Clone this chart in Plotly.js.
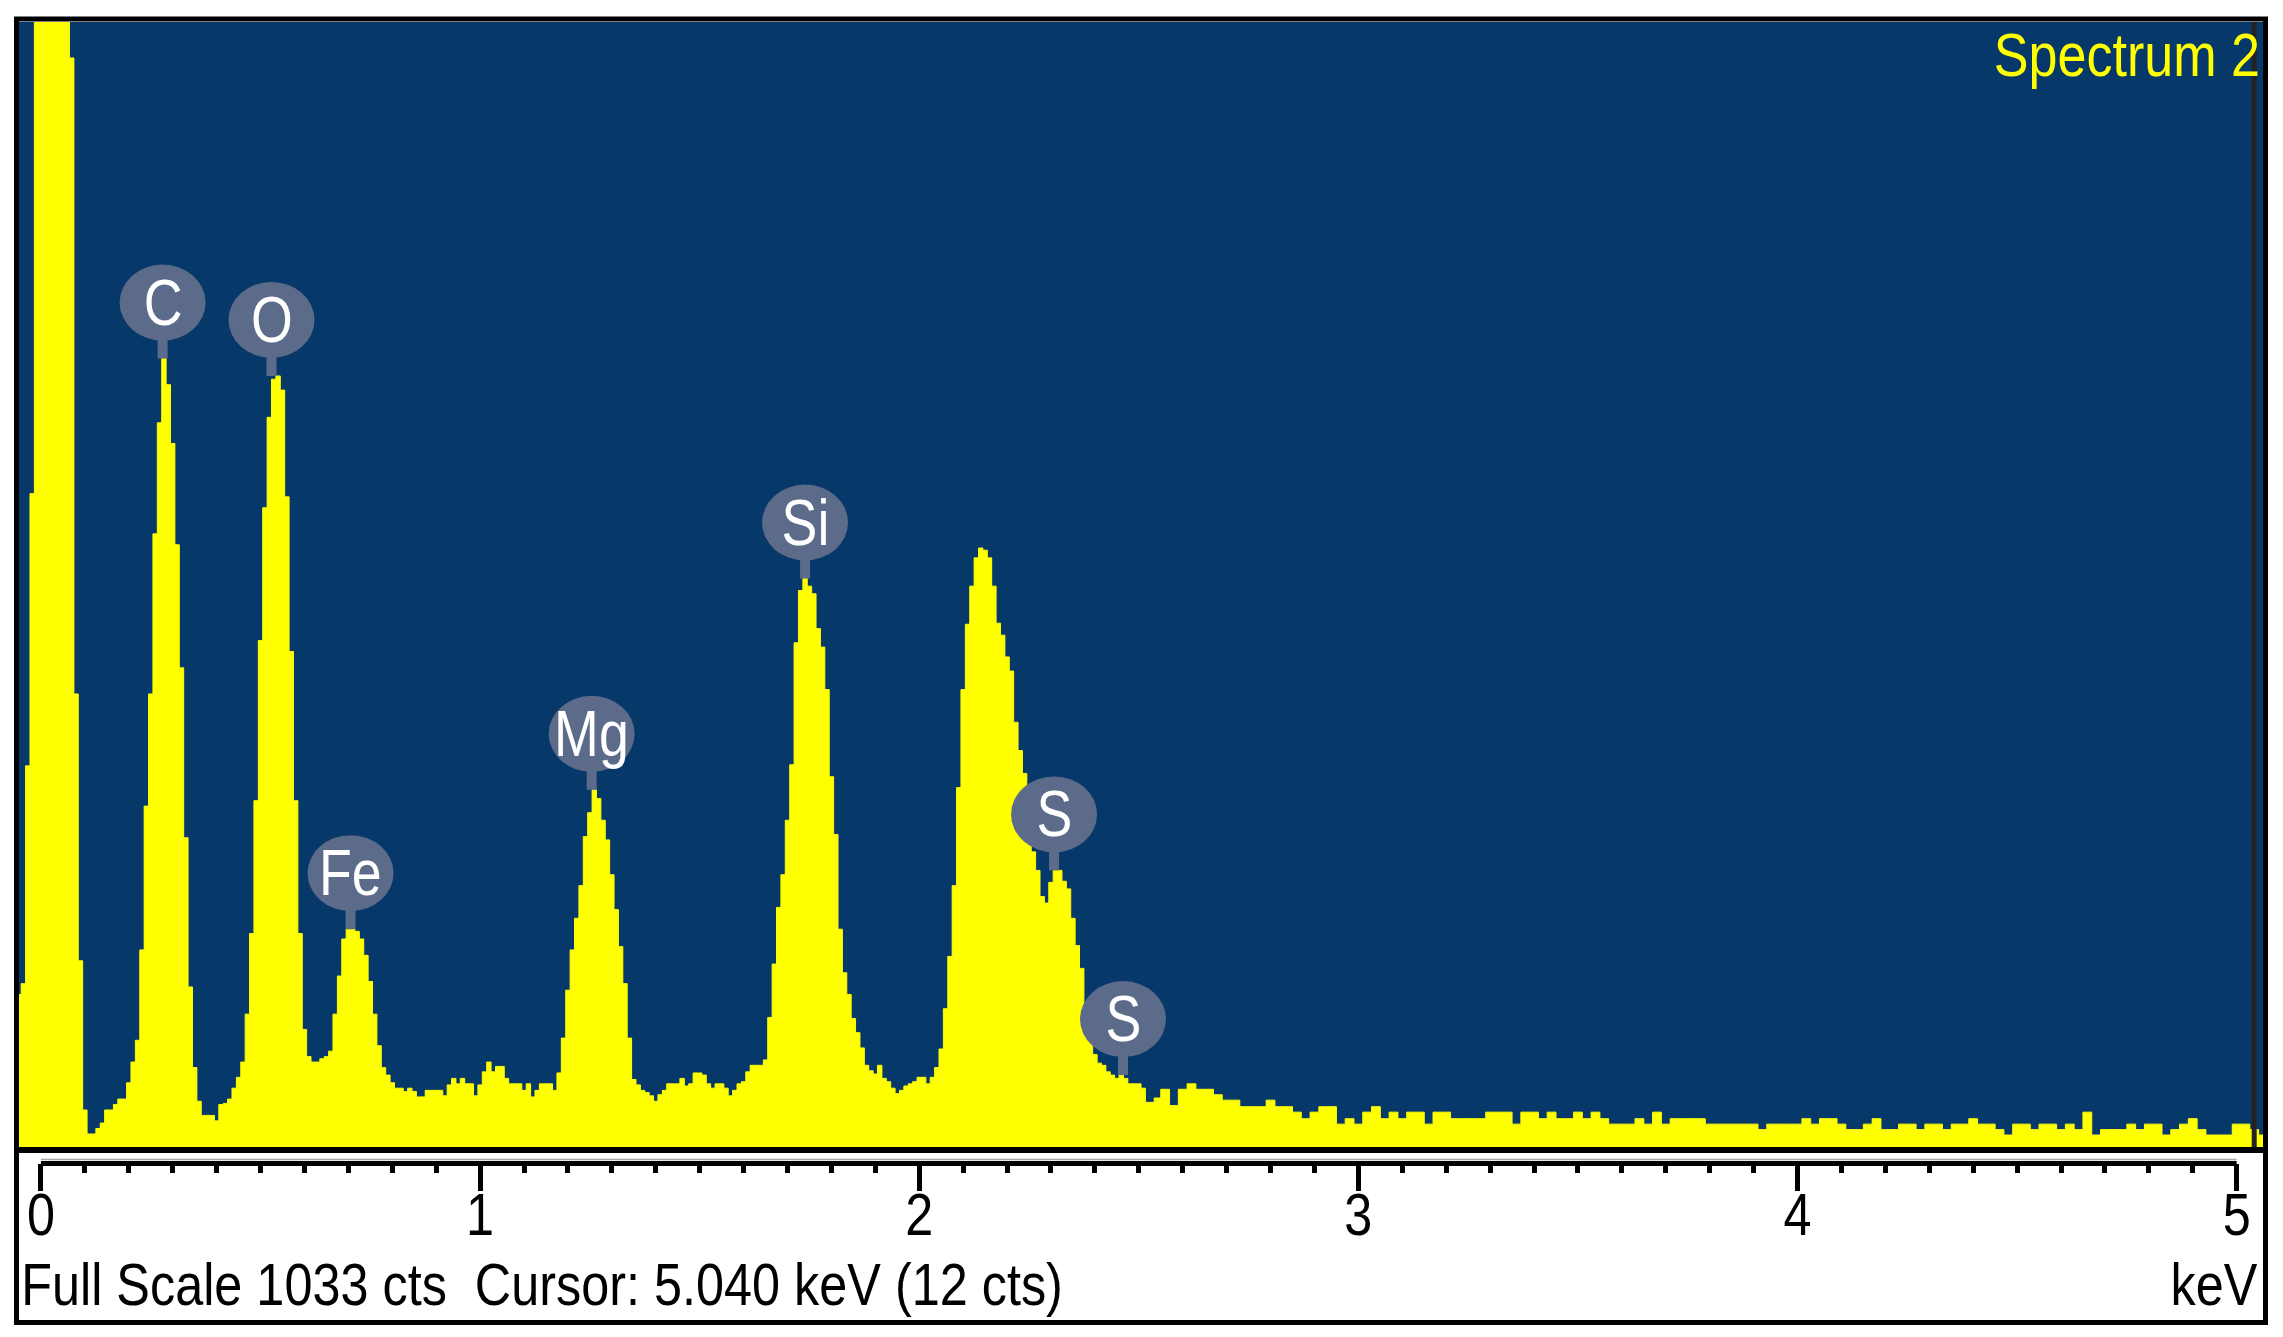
<!DOCTYPE html>
<html>
<head>
<meta charset="utf-8">
<script src="https://cdn.plot.ly/plotly-3.0.1.min.js"></script>
<style>
  html, body { margin: 0; padding: 0; background: #ffffff; }
  #chart { width: 2283px; height: 1337px; }
</style>
</head>
<body>
<div id="chart"></div>
<script>
// ---------------- DATA ----------------
const spectrumName = 'Spectrum 2';
const fullScale = 1033;          // cts
const cursorEnergy = 5.040;      // keV
const cursorCounts = 12;         // cts

// channels from -0.05 keV, 0.01 keV wide
const lowStart = -0.05;
const lowStep = 0.01;
const lowCounts = [
  140,150,350,600,1100,3000,4000,4500,4500,4000,
  3000,1800,1000,416,171,34,12,12,17,22,
  34,34,39,44,44,59,78,98,181,313,
  416,563,665,724,700,646,553,440,284,147,
  73,42,29,29,29,24,39,40,44,54,
  64,78,122,196,318,465,587,670,705,708,
  695,597,455,318,196,108,83,78,78,81,
  83,88,122,157,191,200,200,198,191,176,
  152,122,93,73,66,59,54,54,51,54,
  51,46,46,52,52,52,52,47,57,63,
  58,63,58,58,47,57,69,78,69,74,
  74,63,58,58,58,52,58,46,52,58,
  58,58,52,68,100,144,181,210,240,285,
  307,328,320,300,282,250,218,184,150,100,
  62,57,52,50,47,42,48,52,58,58,
  58,63,56,58,68,68,66,58,54,58,
  58,54,47,52,58,60,69,75,75,75,
  80,119,168,220,250,300,351,463,511,522,
  515,508,476,459,420,340,287,200,160,140,
  118,105,91,75,70,67,75,63,60,54,
  49,52,56,58,60,64,64,58,64,73,
  90,127,175,240,330,420,480,515,541,550,
  548,541,515,481,470,450,437,390,364,343,
  300,271,254,230,224,243,254,254,244,237,
  210,185,164,130,100,85,77,75,69,66,
  63,66,63,58,58,58,54,41,41
];

// channels from 2.54 keV, 0.02 keV wide
const highStart = 2.54;
const highStep = 0.02;
const highCounts = [
  45,53,38,53,58,53,53,48,43,43,
  37,37,37,43,37,37,32,26,32,37,
  37,21,26,21,32,37,26,32,26,32,
  32,21,32,32,26,26,26,26,32,32,
  32,21,32,32,26,32,26,26,32,26,
  32,26,21,21,21,26,21,32,21,26,
  26,26,26,21,21,21,21,21,21,16,
  21,21,21,21,26,21,26,26,21,16,
  16,21,26,16,16,21,21,16,21,21,
  16,21,21,26,21,21,16,11,21,21,
  16,21,21,16,21,16,32,11,16,16,
  16,21,16,21,21,11,16,21,26,16,
  11,11,11,21,21,16,11,11,11
];

// element labels and their line energies (keV)
const peakElements = ['C', 'O', 'Fe', 'Mg', 'Si', 'S', 'S'];
const peakEnergies = [0.277, 0.525, 0.705, 1.254, 1.740, 2.307, 2.464];

// axis ticks (keV)
const majorTicks = [0, 1, 2, 3, 4, 5];
const halfTicks = [0.5, 1.5, 2.5, 3.5, 4.5];
const xRange = [-0.05, 5.06];

// ---------------- BUILD ----------------
const energies = lowCounts.map((_, i) => +(lowStart + i * lowStep).toFixed(3))
  .concat(highCounts.map((_, i) => +(highStart + i * highStep).toFixed(3)));
const counts = lowCounts.concat(highCounts);

function peakTop(e) {
  let m = 0;
  energies.forEach((x, i) => { if (Math.abs(x - e) <= 0.02 && counts[i] > m) m = counts[i]; });
  return m;
}

const W = 2283, H = 1337;
const plotLeft = 19, plotRight = 2263, plotTop = 22, plotBottom = 1147, axisY = 1163;
const pw = plotRight - plotLeft, ph = axisY - plotTop;
const fx = p => (p - plotLeft) / pw;
const fy = p => (axisY - p) / ph;

const FONT = 'Liberation Sans, Arial, sans-serif';
const SQUEEZE = 0.84;   // narrow the glyphs like the instrument's condensed bitmap font
const BLUE = '#06386A';
const YELLOW = '#FFFF00';
const BLOB = '#5B6B89';

const trace = {
  type: 'scatter',
  mode: 'lines',
  x: energies,
  y: counts,
  line: { shape: 'hvh', color: YELLOW, width: 1 },
  fill: 'tozeroy',
  fillcolor: YELLOW,
  hoverinfo: 'skip',
  showlegend: false
};

const shapes = [];
// frame
shapes.push({ type: 'rect', xref: 'paper', yref: 'paper', x0: fx(16.5), x1: fx(2265.5), y0: fy(1322.5), y1: fy(19),
  line: { color: '#000', width: 5 }, fillcolor: 'rgba(0,0,0,0)', layer: 'above' });
shapes.push({ type: 'line', xref: 'paper', yref: 'paper', x0: fx(16.5), x1: fx(2265.5), y0: fy(1150), y1: fy(1150),
  line: { color: '#000', width: 6 }, layer: 'above' });
// axis lines
shapes.push({ type: 'line', xref: 'x', yref: 'paper', x0: majorTicks[0], x1: majorTicks[majorTicks.length - 1], y0: fy(1159.5), y1: fy(1159.5),
  line: { color: '#a8a8a8', width: 1.5 }, layer: 'above' });
shapes.push({ type: 'line', xref: 'x', yref: 'paper', x0: majorTicks[0], x1: majorTicks[majorTicks.length - 1], y0: fy(1163.5), y1: fy(1163.5),
  line: { color: '#000', width: 5 }, layer: 'above' });
// cursor
shapes.push({ type: 'line', xref: 'x', yref: 'paper', x0: cursorEnergy, x1: cursorEnergy, y0: fy(plotBottom), y1: 1,
  line: { color: '#222222', width: 5 }, layer: 'above' });

const annotations = [];
peakElements.forEach((el, i) => {
  const e = peakEnergies[i];
  const top = peakTop(e);
  shapes.push({ type: 'rect', xref: 'x', yref: 'y', xsizemode: 'pixel', ysizemode: 'pixel',
    xanchor: e, yanchor: top, x0: -5, x1: 5, y0: 0, y1: 24,
    fillcolor: BLOB, line: { width: 0 }, layer: 'above' });
  shapes.push({ type: 'circle', xref: 'x', yref: 'y', xsizemode: 'pixel', ysizemode: 'pixel',
    xanchor: e, yanchor: top, x0: -43, x1: 43, y0: 18, y1: 94,
    fillcolor: BLOB, line: { width: 0 }, layer: 'above' });
  annotations.push({ xref: 'x', yref: 'y', x: e, y: top, yshift: 56, text: el, showarrow: false,
    xanchor: 'center', yanchor: 'middle', font: { family: FONT, size: 64, color: '#ffffff' } });
});

const bottomText = 'Full Scale ' + fullScale + ' cts&nbsp;&nbsp;Cursor: ' + cursorEnergy.toFixed(3) + ' keV (' + cursorCounts + ' cts)';
annotations.push({ xref: 'paper', yref: 'paper', x: fx(2262), y: fy(18), xanchor: 'right', yanchor: 'top',
  text: spectrumName, showarrow: false, font: { family: FONT, size: 62, color: YELLOW } });
annotations.push({ xref: 'paper', yref: 'paper', x: fx(19), y: fy(1284), xanchor: 'left', yanchor: 'middle',
  text: bottomText, showarrow: false, font: { family: FONT, size: 60, color: '#000' } });
annotations.push({ xref: 'paper', yref: 'paper', x: fx(2259), y: fy(1284), xanchor: 'right', yanchor: 'middle',
  text: 'keV', showarrow: false, font: { family: FONT, size: 60, color: '#000' } });

const layout = {
  width: W, height: H,
  margin: { l: plotLeft, r: W - plotRight, t: plotTop, b: H - axisY, pad: 0 },
  paper_bgcolor: '#ffffff',
  plot_bgcolor: BLUE,
  showlegend: false,
  xaxis: {
    range: xRange, anchor: 'free', position: 0,
    showgrid: false, zeroline: false, showline: false,
    tickmode: 'array', tickvals: majorTicks, ticktext: majorTicks.map(String),
    ticks: 'outside', ticklen: 27, tickwidth: 5, tickcolor: '#000',
    ticklabelstandoff: -28,
    tickfont: { family: FONT, size: 60, color: '#000' },
    minor: { dtick: 0.1, tick0: 0, ticks: 'outside', ticklen: 9, tickwidth: 5, tickcolor: '#000', showgrid: false }
  },
  xaxis2: {
    range: xRange, overlaying: 'x', anchor: 'free', position: 0,
    showgrid: false, zeroline: false, showline: false,
    tickmode: 'array', tickvals: halfTicks, showticklabels: false,
    ticks: 'outside', ticklen: 15, tickwidth: 5, tickcolor: '#000'
  },
  yaxis: {
    range: [0, fullScale], domain: [fy(plotBottom), 1], visible: false, fixedrange: true
  },
  shapes: shapes,
  annotations: annotations
};

Plotly.newPlot('chart', [trace], layout, { staticPlot: true, displayModeBar: false }).then(gd => {
  // condense tick labels around their centre
  gd.querySelectorAll('.xtick text').forEach(t => {
    const tr = t.getAttribute('transform') || '';
    t.setAttribute('transform', tr + ' scale(' + SQUEEZE + ',1)');
  });
  // condense annotation texts around their anchor edge
  gd.querySelectorAll('text.annotation-text').forEach(t => {
    const bb = t.getBBox();
    const txt = t.textContent;
    let ox = bb.x + bb.width / 2;
    if (txt.indexOf('Full Scale') === 0) ox = bb.x;
    else if (txt === 'keV' || txt === spectrumName) ox = bb.x + bb.width;
    const tr = t.getAttribute('transform') || '';
    t.setAttribute('transform', tr + ' translate(' + ox + ',0) scale(' + SQUEEZE + ',1) translate(' + (-ox) + ',0)');
  });
});
</script>
</body>
</html>
